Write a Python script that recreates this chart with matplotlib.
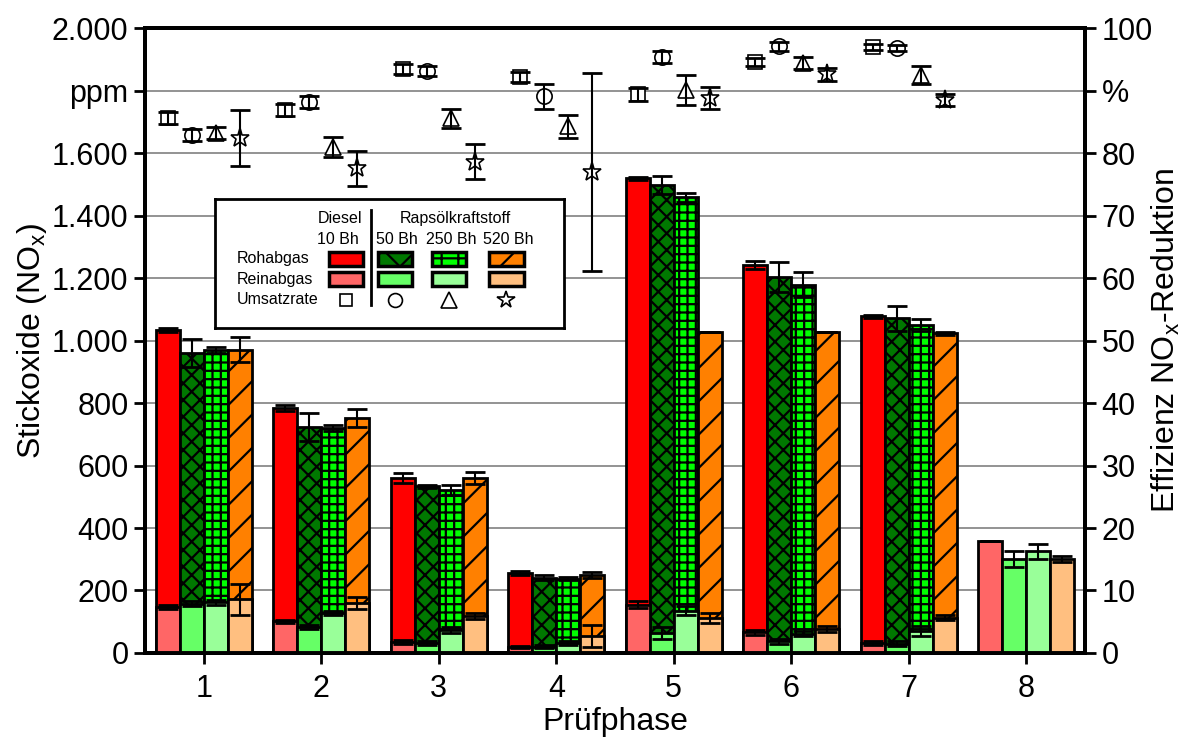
#----Load Packages----
import matplotlib
matplotlib.use("Agg")
import matplotlib.pyplot as plt
from matplotlib.patches import Rectangle
import numpy as np

plt.rcParams['font.family'] = ['Liberation Sans', 'DejaVu Sans']
plt.rcParams['mathtext.default'] = 'regular'
plt.rcParams['hatch.linewidth'] = 1.6

# ---- data ----
phases = [1, 2, 3, 4, 5, 6, 7, 8]
fuels = ['Diesel 10 Bh', 'Raps 50 Bh', 'Raps 250 Bh', 'Raps 520 Bh']

# Rohabgas NOx [ppm]
roh_diesel = [1034, 784, 560, 256, 1520, 1242, 1078, np.nan]
roh_50 = [960, 723, 534, 240, 1498, 1203, 1072, np.nan]
roh_250 = [970, 720, 522, 237, 1459, 1178, 1050, np.nan]
roh_520 = [970, 752, 560, 250, 1027, 1027, 1024, np.nan]
roh_err_diesel = [5, 10, 15, 5, 5, 12, 5, 0]
roh_err_50 = [45, 45, 5, 8, 30, 48, 40, 0]
roh_err_250 = [10, 10, 15, 5, 15, 40, 20, 0]
roh_err_520 = [40, 30, 20, 10, 0, 0, 5, 0]

# Reinabgas NOx [ppm]
rein_diesel = [147, 102, 35, 19, 155, 67, 32, 357]
rein_50 = [158, 83, 32, 20, 64, 38, 30, 300]
rein_250 = [163, 128, 74, 32, 135, 61, 70, 325]
rein_520 = [172, 160, 118, 55, 112, 77, 112, 300]
rein_err_diesel = [5, 5, 5, 3, 10, 8, 5, 0]
rein_err_50 = [8, 5, 5, 5, 20, 8, 8, 25]
rein_err_250 = [8, 5, 10, 5, 15, 8, 15, 25]
rein_err_520 = [50, 20, 10, 35, 15, 10, 8, 10]

# Umsatzrate [%]
eff_diesel = [85.6, 86.9, 93.4, 92.2, 89.4, 94.6, 97.0, np.nan]
eff_50 = [82.9, 88.2, 93.1, 89.1, 95.4, 97.1, 96.8, np.nan]
eff_250 = [83.2, 81.0, 85.6, 84.3, 90.1, 94.4, 92.5, np.nan]
eff_520 = [82.4, 77.6, 78.6, 77.0, 88.8, 92.6, 88.5, np.nan]
eff_err_diesel = [1.0, 1.0, 0.8, 0.8, 1.0, 0.7, 0.5, 0]
eff_err_50 = [1.0, 1.0, 0.8, 2.0, 1.0, 0.7, 0.5, 0]
eff_err_250 = [1.0, 1.6, 1.5, 1.8, 2.4, 1.0, 1.5, 0]
eff_err_520 = [4.5, 2.8, 2.8, 15.8, 1.8, 1.0, 1.0, 0]

left_ticks = [0, 200, 400, 600, 800, 1000, 1200, 1400, 1600, 1800, 2000]
left_labels = ['0', '200', '400', '600', '800', '1.000', '1.200', '1.400', '1.600', 'ppm', '2.000']
right_ticks = [0, 10, 20, 30, 40, 50, 60, 70, 80, 90, 100]
right_labels = ['0', '10', '20', '30', '40', '50', '60', '70', '80', '%', '100']

roh = [roh_diesel, roh_50, roh_250, roh_520]
roh_err = [roh_err_diesel, roh_err_50, roh_err_250, roh_err_520]
rein = [rein_diesel, rein_50, rein_250, rein_520]
rein_err = [rein_err_diesel, rein_err_50, rein_err_250, rein_err_520]
eff = [eff_diesel, eff_50, eff_250, eff_520]
eff_err = [eff_err_diesel, eff_err_50, eff_err_250, eff_err_520]

# ---- styles ----
roh_colors = ['#ff0000', '#007800', '#00ff00', '#ff8000']
rein_colors = ['#ff6666', '#66ff66', '#99ff99', '#ffbf80']
hatches = [None, 'xx', '++', '/']
markers = ['s', 'o', '^', '*']
msizes = [10, 11, 12, 14]
bar_w = 0.205

fig = plt.figure(figsize=(11.89, 7.42), dpi=100)
ax = fig.add_axes([0.122, 0.12, 0.7905, 0.842])
ax2 = ax.twinx()

x = np.array(phases, dtype=float)
err_kw = dict(ecolor='black', elinewidth=1.5, capsize=7.5, capthick=2)
for i in range(4):
    off = (i - 1.5) * bar_w
    ax.bar(x + off, roh[i], bar_w, color=roh_colors[i], hatch=hatches[i],
           edgecolor='black', linewidth=2, yerr=roh_err[i], error_kw=err_kw, zorder=3)
    ax.bar(x + off, rein[i], bar_w, color=rein_colors[i],
           edgecolor='black', linewidth=2, yerr=rein_err[i], error_kw=err_kw, zorder=4)

    # conversion rate markers on right axis
    ax2.plot(x + off, eff[i], ls='none', marker=markers[i], ms=msizes[i],
             mfc='white', mec='black', mew=1.2, zorder=2)
    ax2.errorbar(x + off, eff[i], yerr=eff_err[i], fmt='none', ecolor='black',
                 elinewidth=1.5, capsize=7.5, capthick=2, zorder=3)

ax.set_xlim(0.5, 8.5)
ax.set_ylim(0, 2000)
ax2.set_ylim(0, 100)
ax.set_xticks(phases)
ax.set_xticklabels([str(p) for p in phases])
ax.set_yticks(left_ticks)
ax.set_yticklabels(left_labels)
ax2.set_yticks(right_ticks)
ax2.set_yticklabels(right_labels)

ax.yaxis.grid(True, color='#808080', linewidth=1.2, zorder=0)
ax.set_axisbelow(True)

for a in (ax, ax2):
    for s in a.spines.values():
        s.set_linewidth(2.8)
    a.tick_params(direction='out', length=8, width=2, labelsize=22, pad=4)
ax.tick_params(axis='x', pad=7)

ax.set_xlabel('Prüfphase', fontsize=23, labelpad=2)
ax.set_ylabel('Stickoxide (NO$_x$)', fontsize=23, labelpad=2)
ax2.set_ylabel('Effizienz NO$_x$-Reduktion', fontsize=23, labelpad=-2)

# ---- custom legend box ----
lg = fig.add_axes([0.181, 0.558, 0.293, 0.174], zorder=10)
lg.set_xlim(0, 1)
lg.set_ylim(0, 1)
lg.set_xticks([])
lg.set_yticks([])
for s in lg.spines.values():
    s.set_linewidth(2)
fs = 11.5
lg.text(0.422, 0.845, 'Diesel', ha='right', va='center', fontsize=fs)
lg.text(0.411, 0.682, '10 Bh', ha='right', va='center', fontsize=fs)
lg.text(0.690, 0.845, 'Rapsölkraftstoff', ha='center', va='center', fontsize=fs)
col_x = [0.375, 0.516, 0.672, 0.836]
for cx, lab in zip(col_x[1:], ['50 Bh', '250 Bh', '520 Bh']):
    lg.text(cx + 0.005, 0.682, lab, ha='center', va='center', fontsize=fs)
lg.plot([0.448, 0.448], [0.178, 0.915], color='black', lw=2)
for ry, lab in zip([0.535, 0.372, 0.217], ['Rohabgas', 'Reinabgas', 'Umsatzrate']):
    lg.text(0.063, ry, lab, ha='left', va='center', fontsize=fs)
pw, ph = 0.098, 0.109
leg_hatches = [None, 'x', '+', '/']
for i in range(4):
    lg.add_patch(Rectangle((col_x[i] - pw / 2, 0.535 - ph / 2), pw, ph,
                           facecolor=roh_colors[i], hatch=leg_hatches[i],
                           edgecolor='black', linewidth=2.5))
    lg.add_patch(Rectangle((col_x[i] - pw / 2, 0.38 - ph / 2), pw, ph,
                           facecolor=rein_colors[i], edgecolor='black', linewidth=2.5))
    lg.plot(col_x[i], 0.217, ls='none', marker=markers[i], ms=msizes[i] - 1,
            mfc='white', mec='black', mew=1.2)

fig.savefig('out.png', dpi=100)
